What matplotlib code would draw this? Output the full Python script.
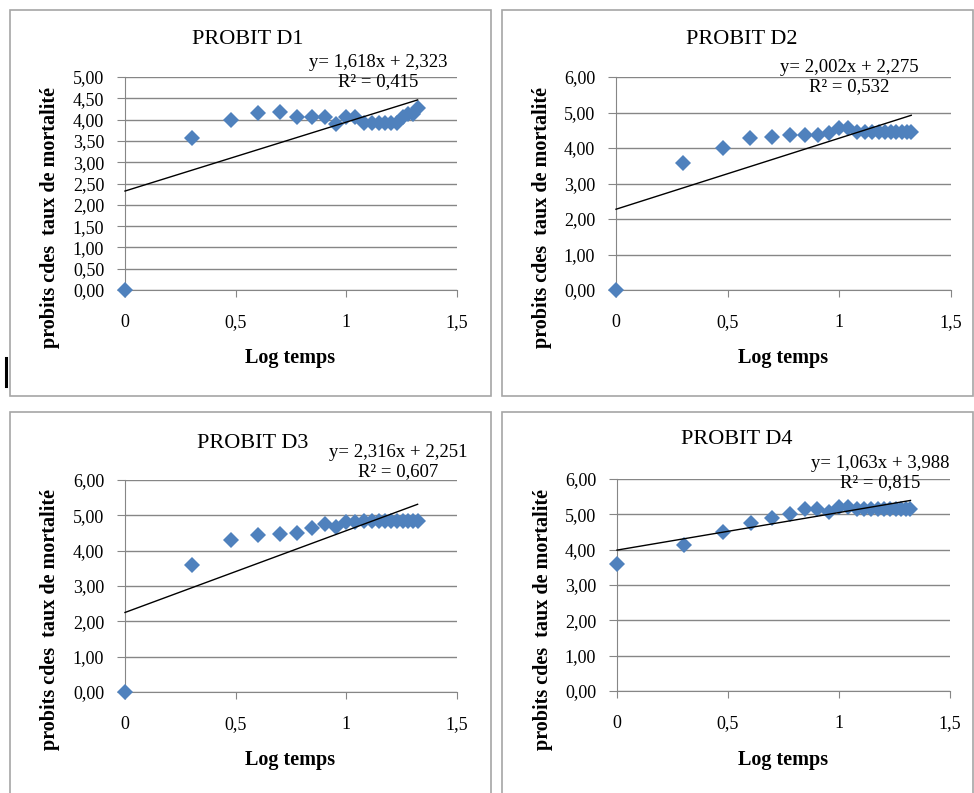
import matplotlib.pyplot as plt
from matplotlib.patches import Rectangle
from matplotlib.lines import Line2D

plt.rcParams['font.family'] = ['Liberation Serif', 'DejaVu Serif']

# log du temps (commun aux quatre doses)
log_temps = [0.000, 0.301, 0.477, 0.602, 0.699, 0.778, 0.845, 0.903, 0.954, 1.000,
             1.041, 1.079, 1.114, 1.146, 1.176, 1.204, 1.230, 1.255, 1.279, 1.301, 1.322]

# probits des taux de mortalité
probit_d1 = [0.00, 3.57, 3.99, 4.15, 4.17, 4.07, 4.07, 4.07, 3.90, 4.07,
             4.07, 3.93, 3.93, 3.93, 3.93, 3.93, 3.93, 4.05, 4.12, 4.12, 4.28]
probit_d2 = [0.00, 3.58, 4.00, 4.28, 4.31, 4.36, 4.36, 4.36, 4.42, 4.55,
             4.55, 4.44, 4.44, 4.44, 4.44, 4.44, 4.44, 4.44, 4.44, 4.44, 4.44]
probit_d3 = [0.00, 3.60, 4.31, 4.43, 4.47, 4.50, 4.64, 4.75, 4.68, 4.80,
             4.80, 4.83, 4.83, 4.83, 4.83, 4.83, 4.83, 4.83, 4.83, 4.83, 4.83]
probit_d4 = [3.59, 4.13, 4.51, 4.75, 4.89, 5.01, 5.16, 5.16, 5.08, 5.22,
             5.22, 5.16, 5.16, 5.16, 5.16, 5.16, 5.16, 5.16, 5.16, 5.16, 5.16]

titres = ["PROBIT D1", "PROBIT D2", "PROBIT D3", "PROBIT D4"]
series = [probit_d1, probit_d2, probit_d3, probit_d4]
pentes = [1.618, 2.002, 2.316, 1.063]
constantes = [2.323, 2.275, 2.251, 3.988]
r2 = ["0,415", "0,532", "0,607", "0,815"]
y_max = [5.0, 6.0, 6.0, 6.0]
y_pas = [0.5, 1.0, 1.0, 1.0]
x_ticks = [0, 0.5, 1, 1.5]
x_tick_labels = ["0", "0,5", "1", "1,5"]

W, H = 974, 793
fig = plt.figure(figsize=(W / 100, H / 100), dpi=100)

def fx(x):
    return x / W

def fy(y):
    return 1 - y / H

# cadres des quatre graphiques
cadres = [(10, 10, 491, 396), (502, 10, 973, 396), (10, 412, 491, 800), (502, 412, 973, 800)]
for (x0, y0, x1, y1) in cadres:
    fig.patches.append(Rectangle((fx(x0), fy(y1)), (x1 - x0) / W, (y1 - y0) / H,
                                 transform=fig.transFigure, fill=False,
                                 edgecolor="#a6a6a6", linewidth=1.2))

# zones de tracé : (gauche, droite, haut, bas) en pixels
zones = [(125, 457, 77, 290), (616, 951, 77, 290), (125, 457, 480, 692), (617, 950, 479, 691)]
pos_titre = [(248, 39), (742, 40), (253, 443), (737, 440)]
pos_eq = [(378, 72), (849, 77), (398, 462), (880, 473)]
pos_xlabel = [(290, 358), (783, 358), (290, 760), (783, 760)]
pos_ylabel = [(50, 218), (542, 218), (50, 620), (543, 620)]

for i in range(4):
    l, r, t, b = zones[i]
    ax = fig.add_axes([fx(l), fy(b), (r - l) / W, (b - t) / H])
    ax.set_facecolor("none")

    # nuage de points
    ax.plot(log_temps, series[i], linestyle="none", marker="D", markersize=8.5,
            color="#4f81bd", markeredgewidth=0, zorder=3, clip_on=False)

    # droite de régression
    xs = [0, log_temps[-1]]
    ax.plot(xs, [pentes[i] * x + constantes[i] for x in xs], color="black",
            linewidth=1.0, zorder=4, clip_on=False)

    ax.set_xlim(0, 1.5)
    ax.set_ylim(0, y_max[i])
    n = int(round(y_max[i] / y_pas[i]))
    yt = [k * y_pas[i] for k in range(n + 1)]
    ax.set_yticks(yt)
    ax.set_yticklabels([f"{v:.2f}".replace(".", ",") for v in yt])
    ax.set_xticks(x_ticks)
    ax.set_xticklabels(x_tick_labels)
    ax.yaxis.grid(True, color="#868686", linewidth=1.0)
    ax.set_axisbelow(True)
    for s in ["top", "right"]:
        ax.spines[s].set_visible(False)
    for s in ["left", "bottom"]:
        ax.spines[s].set_color("#868686")
    ax.tick_params(axis="y", length=6, color="#868686", labelsize=13, pad=9)
    ax.tick_params(axis="x", length=5, color="#868686", labelsize=13, pad=12)

    fig.text(fx(pos_titre[i][0]), fy(pos_titre[i][1]), titres[i], ha="center",
             va="center", fontsize=16)
    eq = f"y= {pentes[i]:.3f}x + {constantes[i]:.3f}".replace(".", ",")
    fig.text(fx(pos_eq[i][0]), fy(pos_eq[i][1]), eq + "\nR² = " + r2[i],
             ha="center", va="center", fontsize=13.5, linespacing=1.1)
    fig.text(fx(pos_xlabel[i][0]), fy(pos_xlabel[i][1]), "Log temps", ha="center",
             va="center", fontsize=14.5, fontweight="bold")
    fig.text(fx(pos_ylabel[i][0]), fy(pos_ylabel[i][1]), "probits cdes  taux de mortalité",
             ha="center", va="center", rotation=90, fontsize=14.5, fontweight="bold")

# petit trait vertical dans la marge gauche
fig.lines.append(Line2D([fx(6), fx(6)], [fy(358), fy(386)], transform=fig.transFigure,
                        color="black", linewidth=2.2))

fig.savefig("out.png", dpi=100, facecolor="white")
